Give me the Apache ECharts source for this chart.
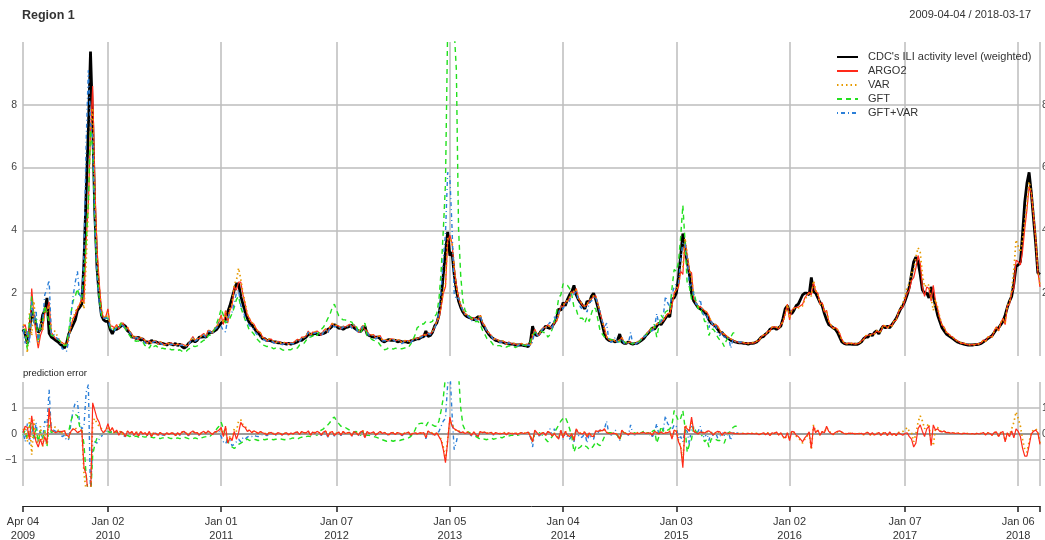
<!DOCTYPE html>
<html><head><meta charset="utf-8">
<script src="https://cdn.jsdelivr.net/npm/echarts@6/dist/echarts.min.js"></script>
<style>html,body{margin:0;padding:0;background:#fff}#c{width:1045px;height:540px}</style>
</head><body><div id="c"></div>
<script>
// ---------------- data (weekly, starting 2009-04-04) ----------------
const startDate = '2009-04-04';
const endDate = '2018-03-17';
const regionTitle = 'Region 1';

// CDC's ILI activity level (weighted)
const cdc = [
0.85,0.7,0.4,0.8,1.45,1.2,1.0,0.75,0.85,1.3,
1.45,1.85,0.72,0.6,0.55,0.5,0.45,0.38,0.33,0.25,
0.4,0.7,0.85,1.0,1.15,1.45,1.55,1.65,3.0,5.2,
7.2,9.7,7.4,4.5,2.8,1.9,1.3,1.15,1.1,1.1,
0.85,0.7,0.85,0.85,0.9,0.95,1.0,0.95,0.8,0.75,
0.6,0.6,0.55,0.6,0.5,0.55,0.45,0.45,0.4,0.5,
0.45,0.45,0.42,0.4,0.4,0.38,0.35,0.4,0.38,0.35,
0.4,0.33,0.38,0.3,0.25,0.3,0.4,0.45,0.5,0.45,
0.5,0.6,0.6,0.62,0.6,0.7,0.75,0.75,0.8,0.85,
0.95,1.05,1.1,1.15,1.4,1.6,1.85,2.1,2.3,2.3,
1.9,1.65,1.4,1.2,1.05,1.0,0.9,0.8,0.75,0.65,
0.55,0.55,0.5,0.5,0.48,0.45,0.45,0.42,0.42,0.4,
0.4,0.38,0.4,0.38,0.4,0.42,0.45,0.5,0.5,0.55,
0.6,0.68,0.7,0.68,0.72,0.7,0.68,0.7,0.72,0.75,
0.85,0.88,0.95,1.0,0.95,0.88,0.9,0.85,0.9,0.92,
0.95,0.98,0.9,0.85,0.8,0.78,0.85,0.95,0.7,0.65,
0.62,0.6,0.6,0.6,0.55,0.48,0.45,0.5,0.52,0.5,
0.5,0.5,0.45,0.48,0.45,0.45,0.45,0.42,0.48,0.5,
0.52,0.55,0.55,0.6,0.62,0.8,0.62,0.65,0.75,0.95,
1.05,1.3,1.8,2.6,3.3,3.95,3.2,3.3,2.6,2.1,
1.75,1.55,1.4,1.3,1.25,1.22,1.2,1.15,1.2,1.25,
1.2,1.0,0.9,0.78,0.68,0.6,0.55,0.5,0.48,0.45,
0.45,0.42,0.4,0.4,0.38,0.38,0.35,0.35,0.35,0.35,
0.33,0.32,0.3,0.45,0.95,0.7,0.65,0.7,0.8,0.85,
0.95,0.9,0.88,0.95,1.05,1.2,1.5,1.45,1.7,1.6,
1.8,1.95,2.05,2.25,1.95,1.8,1.7,1.6,1.5,1.75,
1.7,1.9,2.0,1.8,1.55,1.25,1.0,0.7,0.55,0.5,
0.48,0.48,0.45,0.5,0.7,0.45,0.4,0.4,0.45,0.4,
0.38,0.4,0.4,0.45,0.5,0.55,0.65,0.72,0.8,0.9,
0.85,0.95,1.05,1.0,1.1,1.2,1.3,1.25,1.8,1.85,
2.0,2.5,3.2,3.9,3.4,3.0,2.6,2.0,1.75,1.65,
1.55,1.5,1.45,1.4,1.3,1.15,1.05,1.0,0.95,0.85,
0.75,0.75,0.65,0.6,0.55,0.5,0.48,0.45,0.43,0.42,
0.42,0.4,0.4,0.38,0.4,0.4,0.42,0.45,0.52,0.6,
0.62,0.7,0.75,0.85,0.88,0.9,0.85,0.9,0.95,1.2,
1.5,1.6,1.4,1.35,1.45,1.6,1.65,1.8,1.95,2.0,
2.0,1.95,2.5,2.05,2.0,1.85,1.7,1.6,1.35,1.15,
1.0,0.95,0.9,0.85,0.75,0.6,0.45,0.4,0.38,0.38,
0.38,0.37,0.38,0.37,0.4,0.45,0.55,0.6,0.6,0.7,
0.65,0.75,0.8,0.7,0.85,0.95,0.9,0.95,0.9,1.0,
1.1,1.2,1.35,1.5,1.6,1.75,1.95,2.2,2.6,3.0,
3.15,3.0,2.6,2.1,2.0,2.0,1.85,2.2,1.9,1.6,
1.3,1.1,0.9,0.8,0.7,0.65,0.6,0.55,0.5,0.45,
0.42,0.4,0.38,0.36,0.35,0.35,0.35,0.36,0.36,0.38,
0.4,0.45,0.5,0.55,0.6,0.65,0.75,0.85,0.9,1.0,
1.1,1.3,1.55,1.75,1.9,2.3,2.85,2.9,3.0,3.9,
4.9,5.5,5.85,5.2,4.4,3.6,2.65,2.6
];

// prediction errors (prediction - CDC)
const argo2Error = [
0.05,0.3,0.25,-0.2,0.7,0.1,-0.3,-0.5,-0.2,-0.45,
-0.1,-0.35,1.0,0.15,0.1,0.05,0.1,0.08,0.1,0.12,
-0.05,-0.1,0.1,0.2,0.15,0.05,0.1,0.15,-1.3,-1.55,
-2.4,-2.6,1.2,0.9,0.6,0.45,0.15,0.05,0.15,0.4,
0.1,0.25,0.05,0.15,-0.05,0.1,0.05,-0.1,0.12,0.02,
0.1,-0.05,0.08,-0.08,0.1,0.0,0.05,-0.06,0.1,-0.1,
0.04,0.02,-0.05,0.06,0.0,-0.04,0.05,-0.02,0.04,0.03,
-0.06,0.05,-0.03,0.08,0.1,0.02,-0.05,0.06,0.12,0.04,
0.05,-0.04,0.06,0.1,0.02,0.12,0.05,-0.02,0.08,0.1,
0.15,0.25,-0.1,0.3,-0.35,-0.15,-0.25,0.1,-0.2,0.05,
0.45,0.3,0.25,0.1,0.15,0.05,0.12,0.08,0.02,0.1,
0.05,0.02,-0.03,0.04,0.06,0.0,-0.02,0.05,0.03,-0.04,
0.02,0.05,-0.03,0.04,0.0,0.06,0.08,-0.02,0.1,0.05,
0.04,0.12,-0.05,0.08,0.03,0.1,0.06,-0.04,0.08,0.12,
-0.1,0.05,0.1,-0.06,0.02,0.08,-0.04,0.1,0.02,0.05,
0.06,-0.08,0.1,0.04,-0.05,0.08,0.12,-0.15,0.1,0.02,
0.05,0.08,-0.04,0.03,0.1,0.02,0.06,0.0,-0.03,0.05,
0.04,-0.02,0.06,0.03,-0.05,0.02,0.04,0.07,-0.04,0.02,
0.05,0.0,0.04,0.03,0.06,-0.15,0.12,0.05,0.02,-0.05,
0.05,-0.1,-0.25,-0.6,-1.1,-0.3,0.65,0.3,0.2,0.15,
0.1,0.05,0.08,0.02,0.06,0.03,-0.05,0.08,-0.03,-0.1,
0.1,0.05,0.08,0.02,0.04,0.06,-0.02,0.05,0.03,0.0,
0.02,0.04,-0.03,0.05,0.02,0.0,0.04,-0.02,0.03,0.05,
0.02,0.04,0.08,-0.1,-0.3,0.15,0.05,-0.05,0.02,0.06,
-0.05,0.1,0.05,-0.08,0.02,-0.1,-0.2,0.15,-0.15,0.1,
-0.05,-0.1,0.0,-0.25,0.2,0.05,0.02,0.0,0.08,-0.12,
0.05,-0.08,-0.1,0.12,0.1,0.15,0.12,0.2,0.05,0.02,
0.0,0.03,0.02,-0.04,-0.2,0.15,0.04,0.02,-0.03,0.05,
0.02,0.0,0.04,0.02,0.05,0.06,0.02,0.04,0.03,-0.05,
0.1,0.05,0.0,0.08,0.02,0.04,0.05,0.1,-0.2,0.15,
0.1,-0.3,-0.5,-1.3,0.3,0.2,0.1,0.65,0.1,0.05,
0.0,0.08,0.05,0.04,0.1,0.12,0.05,-0.04,0.06,0.1,
0.08,-0.05,0.06,0.04,0.02,0.05,0.03,0.01,0.02,0.0,
0.01,0.02,0.0,0.03,0.01,0.02,0.0,0.02,-0.03,0.01,
0.05,-0.03,0.04,-0.06,0.05,0.02,0.08,-0.04,0.05,-0.1,
-0.15,0.05,-0.25,0.1,0.08,-0.05,-0.1,-0.2,-0.3,-0.15,
-0.05,0.08,-0.55,0.3,0.05,0.15,-0.05,0.1,0.05,0.3,
0.1,0.02,-0.02,0.06,0.1,0.12,0.08,0.02,0.0,0.03,
0.02,0.03,0.0,0.02,0.01,0.03,-0.02,0.04,0.06,-0.03,
0.05,-0.04,0.0,0.06,-0.05,0.03,0.05,-0.06,0.08,-0.04,
0.02,-0.06,0.05,0.0,-0.05,0.02,0.05,-0.1,-0.2,-0.5,
-0.35,0.2,0.35,0.1,-0.1,0.2,0.3,-0.45,0.35,0.15,
0.2,0.1,0.08,0.12,0.05,0.06,0.03,0.05,0.02,0.04,
0.02,0.0,0.03,0.02,0.01,0.0,0.02,-0.01,0.03,0.0,
0.02,0.06,-0.04,0.05,0.02,-0.05,0.06,0.08,-0.1,0.05,
0.1,-0.3,0.05,-0.1,0.12,-0.15,0.2,0.1,-0.1,-0.55,
-0.85,-0.85,-0.45,0.0,0.1,0.15,0.05,-0.4
];

const varError = [
0.15,0.25,-0.3,0.6,-0.8,0.55,-0.2,-0.35,0.3,-0.5,
0.1,-0.45,0.9,0.25,0.3,0.25,0.15,0.1,0.05,0.15,
-0.1,-0.15,0.1,0.2,0.25,0.1,0.05,0.2,-1.5,-2.2,
-2.5,-2.4,0.5,0.6,0.4,0.3,0.2,0.1,0.1,0.3,
0.15,0.2,0.0,0.1,0.05,0.12,-0.05,-0.08,0.1,0.05,
0.06,-0.04,0.1,-0.06,0.08,0.02,0.04,-0.05,0.06,-0.08,
0.05,0.0,-0.04,0.05,0.02,-0.03,0.04,0.0,0.03,0.02,
-0.05,0.04,-0.02,0.06,0.08,0.03,-0.04,0.05,0.1,0.05,
0.04,-0.03,0.05,0.08,0.03,0.1,0.06,0.0,0.06,0.08,
0.12,0.2,-0.05,0.25,-0.3,-0.1,-0.2,0.2,0.1,0.5,
0.55,0.35,0.3,0.15,0.12,0.08,0.1,0.06,0.04,0.08,
0.04,0.03,-0.02,0.05,0.04,0.02,-0.03,0.04,0.02,-0.02,
0.03,0.04,-0.02,0.03,0.01,0.05,0.06,0.0,0.08,0.04,
0.05,0.1,-0.04,0.06,0.05,0.08,0.05,-0.02,0.06,0.1,
-0.08,0.06,0.08,-0.04,0.04,0.06,-0.02,0.08,0.04,0.03,
0.05,-0.06,0.08,0.05,-0.03,0.06,0.15,-0.1,0.08,0.03,
0.06,0.05,-0.03,0.04,0.08,0.03,0.05,0.02,-0.02,0.04,
0.05,0.0,0.05,0.04,-0.03,0.03,0.05,0.06,-0.03,0.03,
0.04,0.02,0.05,0.04,0.05,-0.12,0.1,0.06,0.04,-0.02,
0.06,-0.05,-0.2,-0.5,-1.0,-0.2,0.5,0.35,0.25,0.1,
0.12,0.08,0.06,0.04,0.08,0.05,-0.03,0.06,-0.02,-0.08,
0.12,0.06,0.06,0.04,0.05,0.05,0.0,0.04,0.04,0.02,
0.03,0.05,-0.02,0.04,0.03,0.02,0.05,0.0,0.04,0.04,
0.03,0.05,0.06,-0.08,-0.25,0.1,0.06,-0.04,0.03,0.05,
-0.04,0.08,0.06,-0.06,0.04,-0.08,-0.15,0.12,-0.1,0.12,
-0.04,-0.08,0.02,-0.2,0.18,0.06,0.04,0.02,0.1,-0.1,
0.06,-0.06,-0.08,0.1,0.12,0.12,0.1,0.15,0.06,0.04,
0.02,0.04,0.03,-0.03,-0.18,0.12,0.05,0.03,-0.02,0.04,
0.03,0.01,0.05,0.03,0.04,0.05,0.03,0.05,0.04,-0.04,
0.08,0.06,0.02,0.06,0.04,0.05,0.06,0.12,-0.15,0.12,
0.15,-0.25,-0.45,-1.1,0.35,0.25,0.12,0.5,0.12,0.06,
0.02,0.06,0.06,0.05,0.08,0.1,0.06,-0.03,0.05,0.08,
0.06,-0.04,0.05,0.05,0.03,0.04,0.04,0.02,0.03,0.01,
0.02,0.03,0.01,0.02,0.02,0.03,0.01,0.03,-0.02,0.02,
0.04,-0.02,0.05,-0.05,0.04,0.03,0.06,-0.03,0.04,-0.12,
-0.2,0.04,-0.2,0.12,0.06,-0.08,-0.12,-0.25,-0.35,-0.2,
-0.1,0.05,-0.6,0.35,0.1,0.12,-0.04,0.08,0.06,0.25,
0.12,0.04,-0.02,0.05,0.08,0.1,0.06,0.03,0.01,0.02,
0.03,0.02,0.01,0.03,0.02,0.02,-0.03,0.05,0.05,-0.04,
0.04,-0.05,0.02,0.05,-0.06,0.04,0.04,-0.05,0.06,-0.05,
0.04,-0.04,0.06,0.05,0.1,0.15,0.25,0.1,0.05,-0.3,
0.0,0.45,0.7,0.5,0.2,0.3,0.4,-0.35,-0.45,0.2,
0.25,0.12,0.1,0.1,0.06,0.05,0.04,0.04,0.03,0.03,
0.03,0.01,0.02,0.03,0.02,0.01,0.01,0.0,0.02,0.01,
0.03,0.05,-0.03,0.04,0.03,-0.04,0.05,0.06,-0.08,0.06,
0.08,-0.25,0.06,-0.05,0.2,0.45,0.85,0.6,0.3,-0.2,
-0.6,-0.7,-0.3,0.05,0.15,0.2,0.1,-0.35
];

// GFT series stops in Aug 2015
const gftError = [
-0.05,0.15,-0.2,0.3,0.45,-0.15,0.2,-0.3,0.1,-0.2,
0.15,-0.5,0.35,0.05,0.1,0.05,0.08,0.1,0.05,0.08,
-0.05,0.1,0.5,0.75,0.75,0.7,0.3,0.2,-0.4,-1.6,
-2.3,-2.5,-0.8,-0.4,-0.15,-0.05,0.0,0.05,0.1,0.1,
0.05,0.1,0.0,0.05,-0.05,0.1,0.0,-0.08,-0.05,-0.1,
-0.05,-0.1,-0.08,-0.12,-0.05,-0.1,-0.12,-0.1,-0.15,-0.12,
-0.15,-0.12,-0.15,-0.18,-0.15,-0.15,-0.12,-0.15,-0.18,-0.15,
-0.18,-0.15,-0.18,-0.15,-0.12,-0.15,-0.18,-0.2,-0.18,-0.15,
-0.18,-0.2,-0.15,-0.12,-0.1,-0.05,-0.08,0.0,0.05,0.2,
0.3,0.45,0.2,-0.1,-0.3,-0.4,-0.5,-0.55,-0.5,-0.4,
-0.35,-0.3,-0.25,-0.2,-0.25,-0.22,-0.2,-0.22,-0.25,-0.22,
-0.2,-0.22,-0.2,-0.18,-0.2,-0.22,-0.2,-0.2,-0.18,-0.2,
-0.22,-0.2,-0.2,-0.18,-0.15,-0.18,-0.2,-0.15,-0.12,-0.15,
-0.1,-0.08,-0.1,-0.05,0.0,-0.05,0.1,0.15,0.2,0.3,
0.35,0.45,0.6,0.65,0.5,0.4,0.3,0.3,0.25,0.2,
0.15,0.1,0.05,0.1,0.0,-0.05,0.05,0.1,-0.05,-0.05,
-0.08,-0.1,-0.12,-0.15,-0.2,-0.22,-0.25,-0.28,-0.25,-0.25,
-0.28,-0.25,-0.22,-0.25,-0.22,-0.2,-0.18,-0.15,-0.1,0.0,
0.15,0.35,0.4,0.42,0.4,0.3,0.45,0.42,0.35,0.3,
0.3,0.5,0.9,1.4,2.2,6.5,8.5,8.0,7.8,7.0,
2.3,1.0,0.35,0.15,0.1,0.05,0.0,-0.05,-0.1,-0.15,
-0.2,-0.18,-0.2,-0.22,-0.18,-0.15,-0.2,-0.18,-0.15,-0.12,
-0.15,-0.1,-0.12,-0.08,-0.05,-0.05,-0.08,-0.05,-0.02,0.0,
0.02,0.0,0.05,0.0,-0.3,0.05,0.08,0.05,0.0,-0.1,
-0.2,-0.3,-0.2,-0.1,0.05,0.2,0.35,0.5,0.6,0.65,
0.45,0.2,-0.1,-0.7,-0.45,-0.55,-0.5,-0.4,-0.45,-0.5,
-0.6,-0.55,-0.45,-0.3,-0.4,-0.45,-0.3,-0.1,0.0,0.05,
0.05,0.02,0.0,-0.05,-0.25,0.1,0.05,0.02,0.0,0.02,
0.0,0.05,0.02,0.0,0.05,0.1,0.0,0.05,-0.05,0.1,
0.15,-0.35,-0.1,0.3,0.1,0.2,0.15,0.2,0.35,0.9,
0.7,0.5,0.6,0.9,0.25,-0.7,-0.4,-0.2,0.3,0.1,
-0.05,0.05,-0.1,-0.3,-0.2,-0.5,-0.2,-0.15,-0.2,-0.25,
-0.25,-0.3,-0.35,-0.1,0.05,0.1,0.25,0.3,0.3
];

const gftVarError = [
0.1,-0.3,0.4,-0.4,0.3,-0.2,0.45,-0.3,0.2,-0.2,
0.5,0.3,1.7,0.1,0.15,0.1,0.1,0.05,-0.1,-0.05,
-0.25,-0.2,0.4,0.9,1.2,1.25,0.4,0.2,0.3,1.6,
1.9,-2.3,-0.4,-0.3,-0.35,-0.2,-0.1,0.05,0.1,0.15,
0.05,0.1,-0.05,0.08,0.02,0.05,-0.05,-0.1,0.05,0.0,
0.05,-0.08,0.04,-0.05,0.06,0.0,-0.04,-0.06,0.05,-0.1,
0.0,0.03,-0.06,0.02,-0.04,-0.05,0.02,-0.04,0.0,0.02,
-0.08,0.03,-0.05,0.05,0.06,0.0,-0.06,0.03,0.08,0.02,
0.02,-0.06,0.03,0.05,-0.02,0.08,0.03,-0.05,0.04,0.05,
0.1,-0.1,-0.3,-0.38,-0.2,-0.25,-0.45,-0.4,-0.3,-0.2,
-0.3,-0.15,-0.2,-0.12,-0.08,-0.1,-0.05,-0.08,-0.1,-0.05,
-0.02,-0.04,-0.06,0.0,0.02,-0.03,-0.05,0.02,0.0,-0.04,
0.0,0.03,-0.05,0.02,-0.02,0.04,0.05,-0.04,0.06,0.02,
0.02,0.08,-0.06,0.05,0.0,0.06,0.03,-0.06,0.04,0.08,
-0.12,0.03,0.06,-0.08,0.0,0.05,-0.06,0.08,0.0,0.02,
0.04,-0.1,0.08,0.02,-0.08,0.05,0.1,-0.15,0.06,0.0,
0.03,0.05,-0.06,0.02,0.06,0.0,0.04,-0.03,-0.05,0.02,
0.02,-0.04,0.04,0.01,-0.06,0.0,0.02,0.05,-0.06,0.0,
0.03,-0.02,0.02,0.0,0.04,-0.18,0.1,0.03,0.0,-0.08,
0.02,0.1,0.3,0.5,0.6,1.9,2.5,0.8,-0.6,-0.3,
0.1,0.05,0.05,0.0,0.04,0.0,-0.08,0.05,-0.05,-0.12,
0.08,0.03,0.05,0.0,0.02,0.04,-0.04,0.03,0.01,-0.02,
0.0,0.02,-0.05,0.03,0.0,-0.02,0.02,-0.04,0.01,0.03,
0.0,0.02,0.05,-0.12,-0.5,0.1,0.02,-0.08,0.0,0.04,
-0.08,0.08,0.2,-0.1,0.2,-0.05,-0.15,0.15,-0.2,0.05,
-0.1,-0.2,-0.05,-0.3,0.15,-0.05,-0.15,-0.1,0.05,-0.35,
0.0,-0.15,-0.2,0.1,0.05,0.15,0.1,0.2,0.5,0.0,
-0.05,0.02,0.15,-0.06,-0.25,0.1,0.0,0.02,-0.05,0.35,
0.0,-0.03,0.02,0.0,0.04,0.05,0.0,0.03,0.02,-0.1,
0.05,0.4,-0.05,0.1,0.15,0.7,0.4,0.3,0.15,0.35,
0.3,-0.2,-0.1,-0.3,0.2,0.1,-0.4,0.3,0.2,0.0,
0.1,0.3,-0.05,-0.15,0.05,-0.25,0.1,-0.1,0.05,-0.15,
-0.1,0.05,-0.05,0.0,0.05,-0.25,0.05,0.0,0.05,0.02,
0.02
];

// axis ticks
const tickDates  = ['2009-04-04','2010-01-02','2011-01-01','2012-01-07','2013-01-05','2014-01-04','2015-01-03','2016-01-02','2017-01-07','2018-01-06','2018-03-17'];
const tickLabels = ['Apr 04\n2009','Jan 02\n2010','Jan 01\n2011','Jan 07\n2012','Jan 05\n2013','Jan 04\n2014','Jan 03\n2015','Jan 02\n2016','Jan 07\n2017','Jan 06\n2018',''];
const mainYTicks = [2,4,6,8];
const errYTicks = [-1,0,1];

const seriesNames = ["CDC's ILI activity level (weighted)", 'ARGO2', 'VAR', 'GFT', 'GFT+VAR'];

// ---------------- build ----------------
const DAY = 86400000;
const t0 = Date.parse(startDate + 'T00:00:00Z');
const dates = cdc.map((_, i) => new Date(t0 + i * 7 * DAY).toISOString().slice(0, 10));
const tickIndex = {};
tickDates.forEach((d, k) => { tickIndex[Math.round((Date.parse(d + 'T00:00:00Z') - t0) / (7 * DAY))] = tickLabels[k]; });
const isTick = (idx) => Object.prototype.hasOwnProperty.call(tickIndex, idx);

const pred = (err) => err.map((e, i) => +(cdc[i] + e).toFixed(3));
const argo2 = pred(argo2Error), varP = pred(varError), gft = pred(gftError), gftVar = pred(gftVarError);

const FONT = "'Liberation Sans', Arial, Helvetica, sans-serif";
const GRID = '#bdbdbd';
const COLORS = { cdc: '#000000', argo: '#ff2a1a', var: '#e69a00', gft: '#22e01e', gv: '#2b7fd8' };

const L = 23, R = 5;
const grids = [
  { left: L, right: R, top: 42, height: 314, containLabel: false, outerBoundsMode: 'none' },
  { left: L, right: R, top: 382, height: 104, containLabel: false, outerBoundsMode: 'none' },
  { left: L, right: R, top: 500, height: 6, containLabel: false, outerBoundsMode: 'none' }
];

// vertical grid lines are drawn as full-height inside ticks at the date ticks
function catX(gi, show) {
  const h = grids[gi].height;
  return {
    type: 'category', gridIndex: gi, data: dates, boundaryGap: false, position: 'bottom',
    axisLine: show ? { show: true, onZero: false, lineStyle: { color: '#222', width: 1 } } : { show: false, onZero: false },
    axisTick: show
      ? { show: true, length: 6, interval: (i) => isTick(i), lineStyle: { color: '#222', width: 1.5 } }
      : { show: true, inside: true, length: h, interval: (i) => isTick(i), lineStyle: { color: GRID, width: 1.5 } },
    axisLabel: show ? {
      show: true, interval: (i) => isTick(i) && tickIndex[i] !== '', margin: 9,
      formatter: (v, i) => tickIndex[i] || '', color: '#333', fontSize: 11, lineHeight: 14, fontFamily: FONT
    } : { show: false },
    splitLine: { show: false }
  };
}

const numFmt = (v) => (v < 0 ? '\u2212' + Math.abs(v) : String(v));
function valY(gi, min, max, ticks, pos, split) {
  return {
    type: 'value', gridIndex: gi, min, max, interval: ticks[1] - ticks[0], position: pos,
    axisLine: { show: false }, axisTick: { show: false },
    axisLabel: {
      show: true, showMinLabel: false, showMaxLabel: false, margin: pos === 'left' ? 6 : 2,
      formatter: (v) => ticks.includes(v) ? numFmt(v) : '', color: '#444', fontSize: 10.5, fontFamily: FONT
    },
    splitLine: split ? { show: true, showMinLine: false, showMaxLine: false, lineStyle: { color: GRID, width: 1.5 } } : { show: false }
  };
}

function line(name, data, xi, yi, color, width, type, z) {
  return {
    type: 'line', name, data, xAxisIndex: xi, yAxisIndex: yi, symbol: 'none', showSymbol: false,
    lineStyle: { color, width, type }, itemStyle: { color }, silent: true, animation: false, z,
    emphasis: { disabled: true }, connectNulls: false
  };
}

const option = {
  animation: false,
  textStyle: { fontFamily: FONT },
  title: [
    { text: regionTitle, left: L - 1, top: 9, padding: 0, textStyle: { fontSize: 12.5, fontWeight: 'bold', color: '#333', fontFamily: FONT } },
    { text: startDate + ' / ' + endDate, right: 14, top: 9, padding: 0, textStyle: { fontSize: 11, fontWeight: 'normal', color: '#333', fontFamily: FONT } },
    { text: 'prediction error', left: L, top: 368, padding: 0, textStyle: { fontSize: 9.5, fontWeight: 'normal', color: '#222', fontFamily: FONT } }
  ],
  legend: {
    orient: 'vertical', left: 836, top: 50, padding: 0, itemGap: 0, itemWidth: 21, itemHeight: 14,
    data: seriesNames, selectedMode: false,
    itemStyle: { opacity: 0 },
    textStyle: { fontSize: 11, color: '#333', fontFamily: FONT, padding: [0, 0, 0, 5], lineHeight: 14 }
  },
  grid: grids,
  xAxis: [catX(0, false), catX(1, false), catX(2, true)],
  yAxis: [
    valY(0, 0, 10, mainYTicks, 'left', true),
    valY(0, 0, 10, mainYTicks, 'right', false),
    valY(1, -2, 2, errYTicks, 'left', true),
    valY(1, -2, 2, errYTicks, 'right', false),
    { type: 'value', gridIndex: 2, min: 0, max: 1, show: false }
  ],
  series: [
    line(seriesNames[0], cdc, 0, 0, COLORS.cdc, 2.8, 'solid', 2),
    line(seriesNames[1], argo2, 0, 0, COLORS.argo, 1.2, 'solid', 3),
    line(seriesNames[2], varP, 0, 0, COLORS.var, 1.7, [1.5, 3], 4),
    line(seriesNames[3], gft, 0, 0, COLORS.gft, 1.4, [5, 4], 5),
    line(seriesNames[4], gftVar, 0, 0, COLORS.gv, 1.4, [1, 3, 4, 3], 6),
    Object.assign(line('err GFT+VAR', gftVarError, 1, 2, COLORS.gv, 1.4, [1, 3, 4, 3], 3), {
      markLine: { silent: true, symbol: 'none', label: { show: false }, animation: false,
        lineStyle: { color: '#9a9a9a', width: 2.2, type: 'solid' }, data: [{ yAxis: 0 }] }
    }),
    line('err GFT', gftError, 1, 2, COLORS.gft, 1.4, [5, 4], 4),
    line('err VAR', varError, 1, 2, COLORS.var, 1.7, [1.5, 3], 5),
    line('err ARGO2', argo2Error, 1, 2, COLORS.argo, 1.2, 'solid', 6),
    { type: 'line', xAxisIndex: 2, yAxisIndex: 4, data: [], silent: true }
  ]
};

const chart = echarts.init(document.getElementById('c'), null, { renderer: 'canvas' });
chart.setOption(option);
</script>
</body></html>
